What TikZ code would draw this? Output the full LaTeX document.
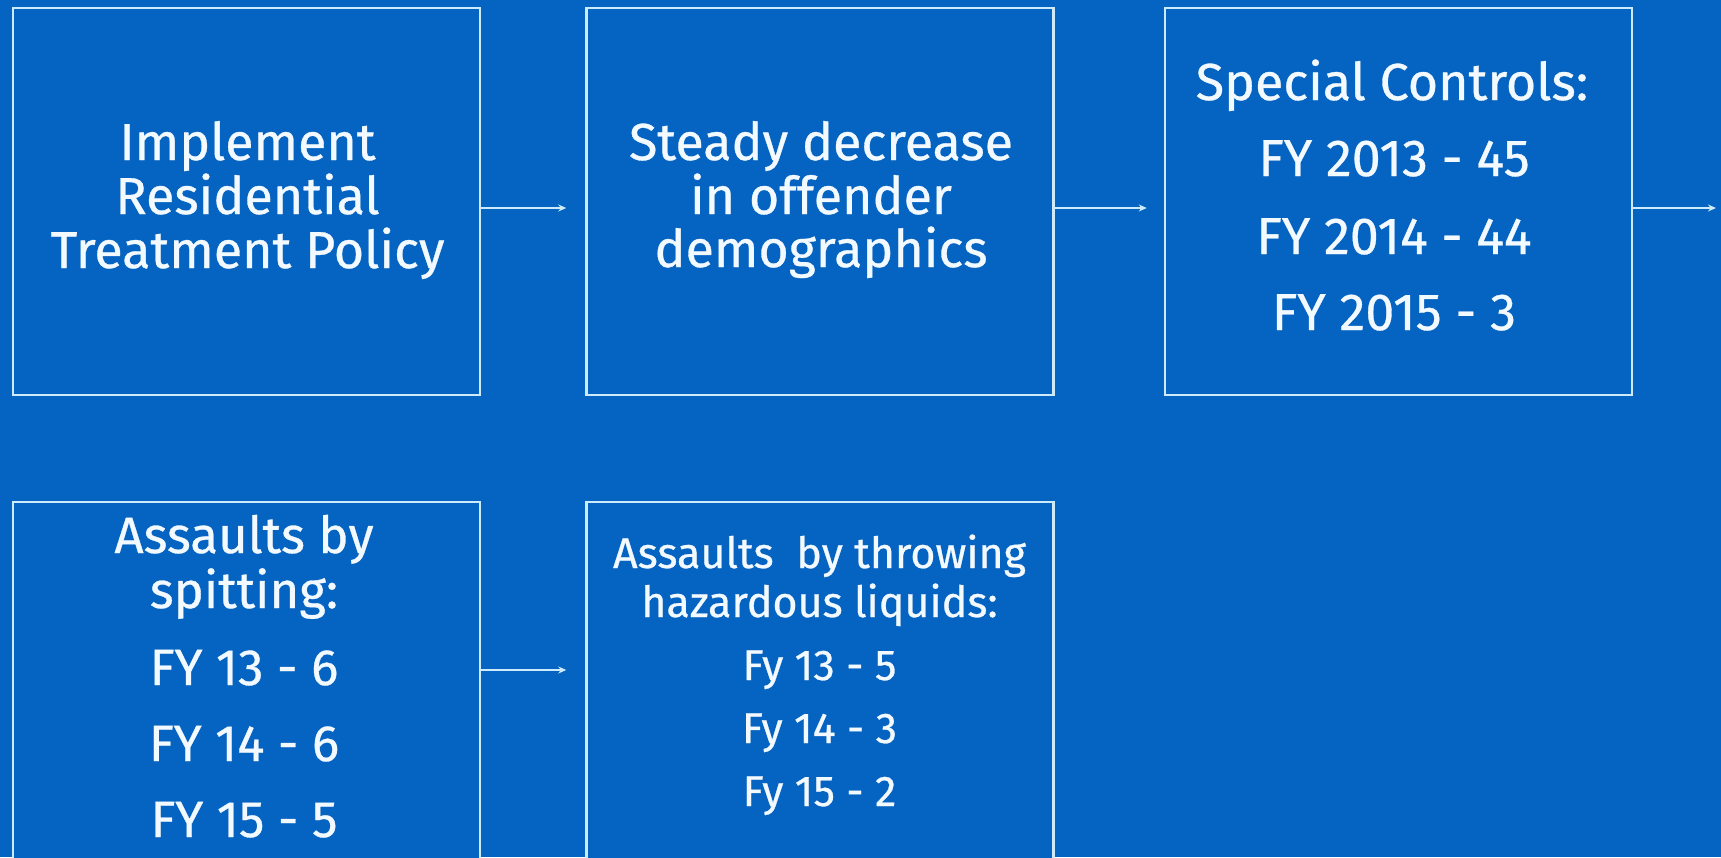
\documentclass[tikz,border=0pt]{standalone}
\usepackage{fontspec}
\setmainfont{Fira Sans}[FakeBold=0.6]
\usetikzlibrary{arrows.meta}
\definecolor{bg}{HTML}{0563C1}
\definecolor{edge}{HTML}{CDEBFA}
\definecolor{txt}{HTML}{F2F9FF}
\begin{document}
\begin{tikzpicture}[x=1pt,y=-1pt,
  boxnode/.style={draw=edge,line width=2.5pt,fill=bg,minimum width=467pt,minimum height=387pt,inner sep=0pt},
  lbl/.style={text=txt,anchor=base,inner sep=0pt},
  big/.style={lbl,font=\fontsize{52}{54}\selectfont},
  mid/.style={lbl,font=\fontsize{51}{54}\selectfont},
  sml/.style={lbl,font=\fontsize{43}{46}\selectfont},
  conn/.style={draw=edge,line width=2.2pt,-{Stealth[length=8pt,width=7pt]}}]
\fill[bg] (0,0) rectangle (1721,857);
\useasboundingbox (0,0) rectangle (1721,857);
\clip (0,0) rectangle (1721,857);
% boxes
\node[boxnode] (b1) at (246.5,201.5) {};
\node[boxnode] (b2) at (820,201.5) {};
\node[boxnode] (b3) at (1398.5,201.5) {};
\node[boxnode,minimum height=448pt] (b4) at (246.5,726) {};
\node[boxnode,minimum height=448pt] (b5) at (820,726) {};
% box 1 text
\node[big] (t1a) at (247.5,160) {Implement};
\node[big] (t1b) at (247.5,214) {Residential};
\node[big] (t1c) at (247.5,268) {Treatment Policy};
% box 2 text
\node[big] (t2a) at (821,160) {Steady decrease};
\node[big] (t2b) at (821,214) {in offender};
\node[big] (t2c) at (821,267) {demographics};
% box 3 text
\node[big] (t3a) at (1392,100) {Special Controls:};
\node[big] (t3b) at (1394,176) {FY 2013 - 45};
\node[big] (t3c) at (1394,254) {FY 2014 - 44};
\node[big] (t3d) at (1394,330) {FY 2015 - 3};
% box 4 text
\node[mid] (t4a) at (244,553) {Assaults by};
\node[mid] (t4b) at (244,608) {spitting:};
\node[mid] (t4c) at (244,685) {FY 13 - 6};
\node[mid] (t4d) at (244,761) {FY 14 - 6};
\node[mid] (t4e) at (244,837) {FY 15 - 5};
% box 5 text
\node[sml] (t5a) at (819.5,568) {Assaults\ \ by throwing};
\node[sml] (t5b) at (819.5,617) {hazardous liquids:};
\node[sml] (t5c) at (819.5,680) {Fy 13 - 5};
\node[sml] (t5d) at (819.5,743) {Fy 14 - 3};
\node[sml] (t5e) at (819.5,806) {Fy 15 - 2};
% connectors
\coordinate (end3) at (1716,208);
\draw[conn,shorten >=19pt] (b1.east |- 0,208) -- (b2.west |- 0,208);
\draw[conn,shorten >=17pt] (b2.east |- 0,208) -- (b3.west |- 0,208);
\draw[conn] (b3.east |- 0,208) -- (end3);
\draw[conn,shorten >=19pt] (b4.east |- 0,670) -- (b5.west |- 0,670);
\end{tikzpicture}
\end{document}
